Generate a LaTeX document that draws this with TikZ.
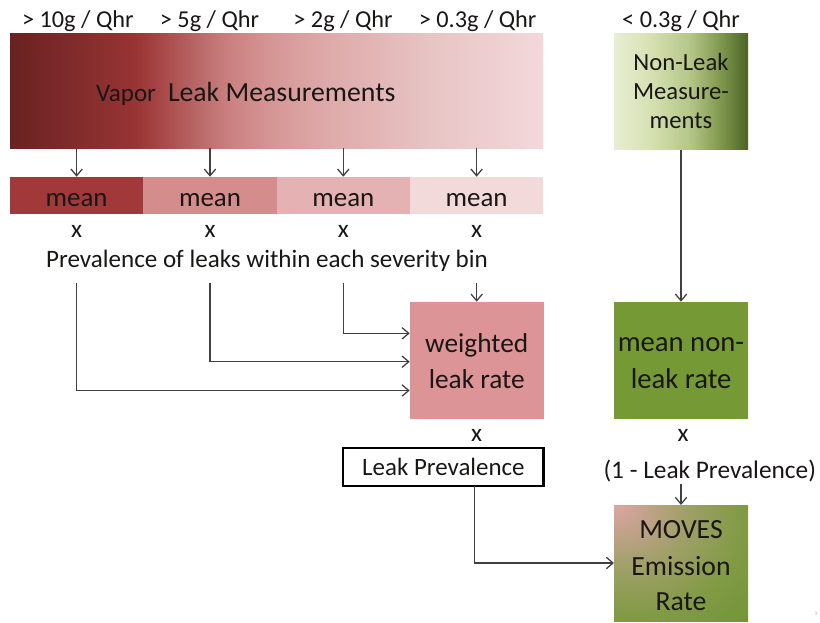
\documentclass[tikz,border=0pt]{standalone}
\usepackage{fontspec}
\setmainfont{Carlito}
\usetikzlibrary{arrows.meta,calc}
\definecolor{linec}{RGB}{64,64,64}
\definecolor{txtc}{RGB}{26,22,22}
\definecolor{vA}{RGB}{105,34,34}
\definecolor{vB}{RGB}{152,52,52}
\definecolor{vC}{RGB}{168,72,72}
\definecolor{vD}{RGB}{186,106,106}
\definecolor{vE}{RGB}{202,128,128}
\definecolor{vF}{RGB}{214,150,150}
\definecolor{vG}{RGB}{222,168,168}
\definecolor{vH}{RGB}{232,196,196}
\definecolor{vI}{RGB}{243,216,219}
\definecolor{gA}{RGB}{232,238,212}
\definecolor{gB}{RGB}{214,225,178}
\definecolor{gC}{RGB}{180,198,135}
\definecolor{gD}{RGB}{128,152,78}
\definecolor{gE}{RGB}{75,100,38}
\definecolor{meanA}{RGB}{161,56,58}
\definecolor{meanB}{RGB}{213,140,140}
\definecolor{meanC}{RGB}{228,178,178}
\definecolor{meanD}{RGB}{242,218,219}
\definecolor{wcol}{RGB}{220,148,150}
\definecolor{nlcol}{RGB}{117,154,53}
\definecolor{mA}{RGB}{220,166,166}
\definecolor{mB}{RGB}{196,162,140}
\definecolor{mC}{RGB}{160,160,104}
\definecolor{mD}{RGB}{128,154,68}
\definecolor{mE}{RGB}{110,148,52}
\pgfdeclarehorizontalshading{vaporshade}{100bp}{color(0bp)=(vA); color(25bp)=(vA); color(36.8bp)=(vB); color(39.2bp)=(vC); color(42.8bp)=(vD); color(45.5bp)=(vE); color(49.6bp)=(vF); color(54.4bp)=(vG); color(64.4bp)=(vH); color(75bp)=(vI); color(100bp)=(vI)}
\pgfdeclarehorizontalshading{nlshade}{100bp}{color(0bp)=(gA); color(25bp)=(gA); color(38.7bp)=(gB); color(53.5bp)=(gC); color(64.6bp)=(gD); color(75bp)=(gE); color(100bp)=(gE)}
\pgfdeclareradialshading{movesshade}{\pgfpoint{-25bp}{25bp}}{color(0bp)=(mA); color(9bp)=(mB); color(22bp)=(mC); color(40bp)=(mD); color(60bp)=(mE); color(120bp)=(mE)}
\begin{document}
\begin{tikzpicture}[x=0.75pt,y=-0.75pt,
  box/.style={rectangle, draw=none, inner sep=0pt, outer sep=0pt},
  lbl/.style={inner sep=0pt, outer sep=0pt, text=txtc, anchor=base},
  toplbl/.style={lbl, font=\fontsize{18.2}{22}\selectfont},
  meantxt/.style={lbl, font=\fontsize{20.2}{24}\selectfont},
  xtxt/.style={lbl, font=\fontsize{19}{22}\selectfont},
  boxtxt/.style={lbl, font=\fontsize{20.5}{24}\selectfont},
  arr/.style={draw=linec, line width=0.95pt, -{Straight Barb[length=5pt,width=8.5pt]}}]
\useasboundingbox (0,0) rectangle (820,622);

% top labels
\node[toplbl] (t1) at (77.8,27) {> 10g / Qhr};
\node[toplbl] (t2) at (209.5,27) {> 5g / Qhr};
\node[toplbl] (t3) at (343,27) {> 2g / Qhr};
\node[toplbl] (t4) at (477.6,27) {> 0.3g / Qhr};
\node[toplbl] (t5) at (681,27) {< 0.3g / Qhr};

% vapor leak measurements
\node[box, shading=vaporshade, shading angle=0, minimum width=399.75pt, minimum height=86.25pt] (vapor) at (276.5,90.5) {};
\node[lbl, anchor=base west, font=\fontsize{18.8}{22}\selectfont] (vap1) at (96,101.5) {Vapor};
\node[lbl, anchor=base west, font=\fontsize{20.8}{24}\selectfont] (vap2) at (168,101.5) {Leak Measurements};

% non-leak measurements
\node[box, shading=nlshade, shading angle=0, minimum width=100.5pt, minimum height=87.5pt] (nonleak) at (681,91.6) {};
\node[lbl, font=\fontsize{18.5}{22}\selectfont] (nl1) at (681,70) {Non-Leak};
\node[lbl, font=\fontsize{18.5}{22}\selectfont] (nl2) at (681,99) {Measure-};
\node[lbl, font=\fontsize{18.5}{22}\selectfont] (nl3) at (681,128) {ments};

% mean bar
\node[box, fill=meanA, minimum width=100pt, minimum height=28.2pt] (mean1) at (76.6,195.5) {};
\node[box, fill=meanB, minimum width=100pt, minimum height=28.2pt] (mean2) at (210,195.5) {};
\node[box, fill=meanC, minimum width=100pt, minimum height=28.2pt] (mean3) at (343.3,195.5) {};
\node[box, fill=meanD, minimum width=100pt, minimum height=28.2pt] (mean4) at (476.6,195.5) {};
\node[meantxt] (m1) at (76.6,206) {mean};
\node[meantxt] (m2) at (210,206) {mean};
\node[meantxt] (m3) at (343.3,206) {mean};
\node[meantxt] (m4) at (476.6,206) {mean};

\foreach \i in {1,2,3,4}{
  \draw[arr] (vapor.south -| mean\i.north) -- (mean\i.north);
}

% x signs
\node[xtxt] (x1) at (76.6,237) {x};
\node[xtxt] (x2) at (210,237) {x};
\node[xtxt] (x3) at (343.3,237) {x};
\node[xtxt] (x4) at (476.6,237) {x};

\node[lbl, font=\fontsize{18.8}{22}\selectfont] (prev) at (267,267) {Prevalence of leaks within each severity bin};

% weighted leak rate
\node[box, fill=wcol, minimum width=100.5pt, minimum height=88.2pt] (weighted) at (476.7,360.5) {};
\node[boxtxt] (w1) at (476.7,352.5) {weighted};
\node[boxtxt] (w2) at (476.7,388.5) {leak rate};

\coordinate (p1) at (mean1 |- 0,283);
\coordinate (p2) at (mean2 |- 0,283);
\coordinate (p3) at (mean3 |- 0,283);
\coordinate (p4) at (mean4 |- 0,283);
\draw[arr] (p1) |- ($(weighted.west)+(0,30)$);
\draw[arr] (p2) |- ($(weighted.west)+(0,1.2)$);
\draw[arr] (p3) |- ($(weighted.west)+(0,-27.2)$);
\draw[arr] (p4 -| weighted.north) -- (weighted.north);

\node[xtxt] (x5) at (476.7,441.7) {x};

% leak prevalence
\node[box, draw=black, line width=1.9pt, minimum width=150.4pt, minimum height=28.5pt] (leakprev) at (443.4,467.2) {};
\node[lbl, font=\fontsize{18.7}{22}\selectfont] (lp) at (443.4,475) {Leak Prevalence};

% mean non-leak rate
\node[box, fill=nlcol, minimum width=100.5pt, minimum height=88.2pt] (nlrate) at (681,360.5) {};
\node[lbl, font=\fontsize{21.5}{24}\selectfont] (n1) at (681,351.7) {mean non-};
\node[lbl, font=\fontsize{21.5}{24}\selectfont] (n2) at (681,388.3) {leak rate};
\draw[arr] (nonleak.south) -- (nlrate.north);

\node[xtxt] (x6) at (683,441.7) {x};
\node[lbl, font=\fontsize{19}{22}\selectfont] (onelp) at (709.7,478) {(1 - Leak Prevalence)};

% MOVES emission rate
\node[box, shading=movesshade, minimum width=100.5pt, minimum height=87pt] (moves) at (681,563) {};
\node[lbl, font=\fontsize{20.8}{24}\selectfont] (mv1) at (681,538.5) {MOVES};
\node[lbl, font=\fontsize{20.8}{24}\selectfont] (mv2) at (681,575.5) {Emission};
\node[lbl, font=\fontsize{20.8}{24}\selectfont] (mv3) at (681,610) {Rate};

\draw[arr] ($(moves.north |- onelp.south)+(0,2)$) -- (moves.north);
\draw[arr] (leakprev.south -| 474.3,0) |- (moves.west);

\node[inner sep=0pt, font=\fontsize{4}{4}\selectfont, text=black!30] (pg) at (816,614) {3};
\end{tikzpicture}
\end{document}
